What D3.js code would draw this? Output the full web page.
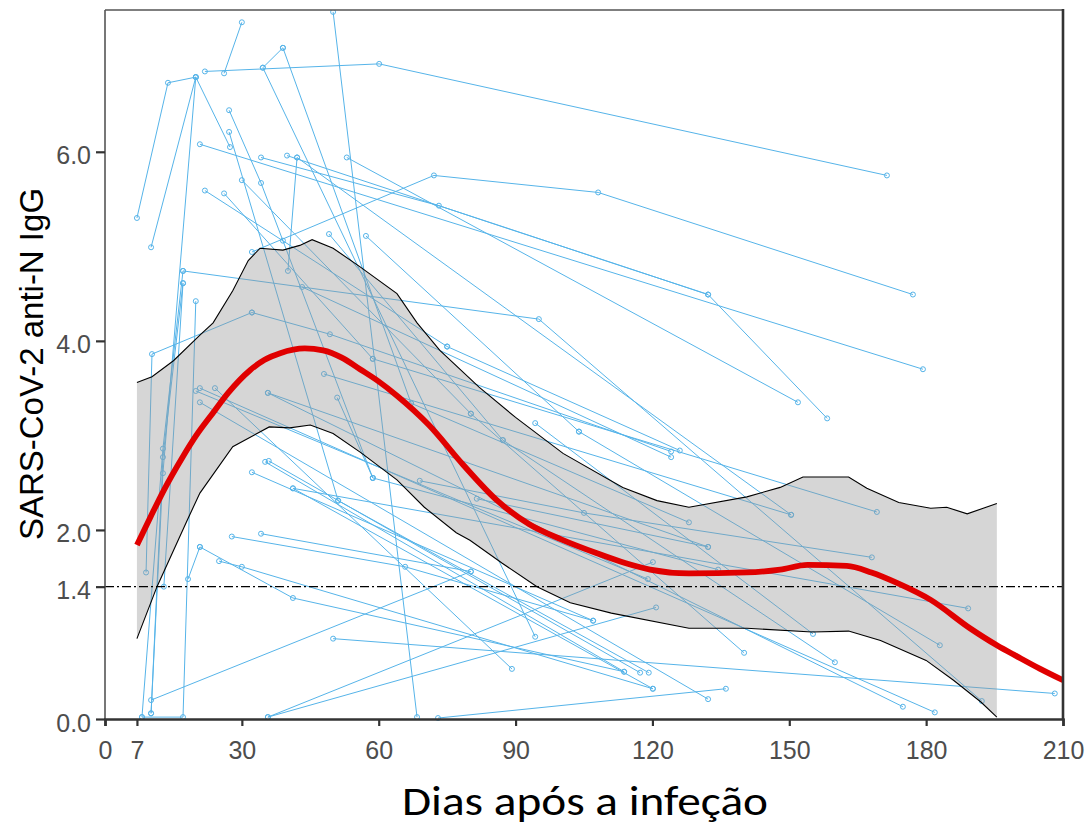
<!DOCTYPE html>
<html><head><meta charset="utf-8">
<script src="https://cdn.jsdelivr.net/npm/d3@7"></script>
<style>body{margin:0;background:#fff}</style>
</head><body>
<svg id="c" width="1087" height="826"></svg>
<script>
const xTickValues = [0, 7, 30, 60, 90, 120, 150, 180, 210];
const yTickValues = [0, 1.4, 2, 4, 6];
const threshold = 1.4;
const xTitle = "Dias após a infeção";
const yTitle = "SARS-CoV-2 anti-N IgG";

// individual trajectories: [day, value]
const subjects = [
  [[32.2,4.94],[72.1,5.75],[108.1,5.57],[177.1,4.49]],
  [[21.9,6.85],[60.1,6.93],[171.4,5.75]],
  [[7.0,5.30],[13.8,6.73],[19.9,6.79]],
  [[10.1,4.99],[19.9,6.79],[27.4,6.05]],
  [[20.8,6.08],[179.3,3.70]],
  [[34.2,5.94],[73.2,5.43],[132.2,4.49],[158.3,3.18]],
  [[53.0,5.94],[151.9,3.35]],
  [[39.9,5.96],[132.2,4.49]],
  [[26.1,6.83],[30.0,7.37]],
  [[39.0,7.10],[67.1,3.34]],
  [[34.6,6.89],[39.0,7.10]],
  [[34.6,6.89],[94.3,0.87]],
  [[27.2,6.44],[34.2,5.67],[39.0,5.06],[58.7,2.55]],
  [[21.9,5.59],[75.0,3.94]],
  [[40.1,4.74],[42.1,5.94]],
  [[30.0,5.70],[80.2,3.23]],
  [[26.1,5.56],[58.7,3.81]],
  [[49.1,5.13],[87.2,2.95]],
  [[57.2,5.11],[103.9,3.04]],
  [[50.0,7.48],[68.4,0.02]],
  [[17.1,4.74],[95.1,4.23],[192.2,0.19]],
  [[75.0,3.94],[126.0,2.84]],
  [[32.2,4.30],[49.3,4.07],[124.1,2.83]],
  [[43.2,4.57],[124.1,2.77]],
  [[48.0,3.65],[150.4,2.16]],
  [[50.9,3.40],[58.7,2.55]],
  [[58.7,3.81],[169.2,2.19]],
  [[67.1,3.34],[128.0,2.08]],
  [[80.2,3.23],[140.1,0.70]],
  [[87.2,2.95],[160.0,0.60]],
  [[94.3,3.13],[155.2,0.90]],
  [[103.9,3.04],[183.0,0.78]],
  [[69.0,2.52],[105.0,2.18],[168.1,1.71]],
  [[81.5,2.33],[132.2,1.82]],
  [[41.2,2.44],[189.2,1.17]],
  [[58.7,2.55],[134.4,1.58]],
  [[51.1,2.31],[119.2,0.49]],
  [[41.2,2.44],[120.1,0.32]],
  [[35.1,2.72],[113.8,0.50]],
  [[35.9,2.73],[117.3,0.49]],
  [[32.2,2.61],[107.0,1.04]],
  [[35.7,3.45],[174.9,0.13]],
  [[19.9,3.47],[119.0,1.48]],
  [[20.8,3.50],[181.9,0.07]],
  [[24.1,3.50],[89.2,0.53]],
  [[20.8,3.35],[132.2,0.21]],
  [[8.1,0.02],[12.7,2.86],[17.1,4.74]],
  [[9.0,1.55],[10.3,3.86],[32.2,4.30]],
  [[12.9,1.40],[17.1,4.61]],
  [[10.1,0.20],[80.2,1.56]],
  [[20.8,1.82],[41.2,1.28],[113.8,0.50]],
  [[27.8,1.93],[65.8,1.61],[107.0,1.04]],
  [[34.2,1.96],[80.2,1.56]],
  [[25.0,1.67],[30.0,1.61],[120.1,0.32]],
  [[8.1,0.02],[17.1,0.02],[19.9,4.42]],
  [[10.1,0.06],[12.7,2.60],[19.9,6.79]],
  [[35.7,0.02],[120.1,1.66]],
  [[35.7,0.02],[120.8,1.18]],
  [[73.0,0.01],[136.1,0.32]],
  [[50.0,0.85],[208.2,0.27]],
  [[18.2,1.48],[20.8,1.82]],
  [[10.1,0.06],[12.7,2.77],[17.1,4.61]],
  [[27.2,6.21],[51.1,2.31]],
  [[42.1,5.94],[150.4,2.16]],
  [[35.7,3.45],[132.2,1.82]]
];

// smoothed mean curve
const loessCurve = [[7,1.84],[10,2.14],[13,2.43],[17,2.77],[20,3.00],[23.7,3.24],[27,3.45],[31.8,3.69],[35,3.80],[38.4,3.87],[43.8,3.92],[47.8,3.90],[52,3.82],[55.9,3.70],[60,3.57],[64,3.42],[71,3.11],[78.5,2.69],[86,2.31],[93,2.06],[100,1.90],[108,1.75],[114,1.65],[119.5,1.58],[128,1.54],[140.7,1.55],[148,1.58],[154,1.63],[162.6,1.62],[168,1.55],[173.6,1.44],[181,1.26],[189.6,0.96],[195.5,0.78],[200,0.66],[205,0.53],[210,0.41]];

// confidence band
const ciUpper = [[7,3.56],[10.3,3.62],[15,3.79],[20.8,4.06],[23.7,4.19],[28,4.53],[31.4,4.85],[34,4.98],[39,4.96],[42.7,5.01],[45.4,5.07],[50,4.98],[56,4.78],[64,4.50],[68.4,4.19],[73.4,3.90],[82,3.51],[90,3.19],[100.4,2.81],[113.5,2.45],[121,2.31],[128,2.24],[140.7,2.35],[148,2.45],[153,2.56],[163,2.56],[167,2.44],[174,2.29],[181,2.23],[184.5,2.24],[189,2.17],[195.5,2.28]];
const ciLower = [[7,0.85],[11.4,1.40],[18,2.10],[20.8,2.39],[28,2.88],[36,3.09],[40.5,3.08],[45,3.11],[50,3.02],[56,2.82],[64,2.53],[70,2.24],[77,1.97],[80,1.89],[87,1.65],[94.7,1.40],[102,1.23],[111,1.12],[128,0.96],[140.7,0.96],[155,0.92],[163,0.93],[170,0.83],[180,0.62],[186,0.41],[192,0.18],[195.5,0.02]];

const svg = d3.select("#c");
const x = d3.scaleLinear().domain([0, 210]).range([105, 1063]);
const y = d3.scaleLinear().domain([0, 7.5]).range([719, 10]);

svg.append("defs").append("clipPath").attr("id", "clip")
  .append("rect").attr("x", 105).attr("y", 10).attr("width", 958).attr("height", 712);
const plot = svg.append("g").attr("clip-path", "url(#clip)");

const line = d3.line().x(d => x(d[0])).y(d => y(d[1]));
const blue = "#56B4E9";

plot.append("g").selectAll("path").data(subjects).join("path")
  .attr("d", line).attr("fill", "none").attr("stroke", blue).attr("stroke-width", 1);
plot.append("g").selectAll("circle").data(subjects.flat()).join("circle")
  .attr("cx", d => x(d[0])).attr("cy", d => y(d[1])).attr("r", 2.5)
  .attr("fill", "none").attr("stroke", blue).attr("stroke-width", 1);

// band
const bandPoly = ciUpper.concat(ciLower.slice().reverse());
plot.append("path").attr("d", line(bandPoly) + "Z")
  .attr("fill", "#999999").attr("fill-opacity", 0.4).attr("stroke", "none");
plot.append("path").attr("d", line(ciUpper)).attr("fill", "none").attr("stroke", "#000").attr("stroke-width", 1.1);
plot.append("path").attr("d", line(ciLower)).attr("fill", "none").attr("stroke", "#000").attr("stroke-width", 1.1);

// threshold
plot.append("line").attr("x1", x(0)).attr("x2", x(210)).attr("y1", y(threshold)).attr("y2", y(threshold))
  .attr("stroke", "#000").attr("stroke-width", 1.2).attr("stroke-dasharray", "9 3 2 3");

// smooth
plot.append("path").attr("d", d3.line().curve(d3.curveMonotoneX).x(d => x(d[0])).y(d => y(d[1]))(loessCurve))
  .attr("fill", "none").attr("stroke", "#e00000").attr("stroke-width", 5.8).attr("stroke-linejoin", "round");

// frame
svg.append("line").attr("x1", 105).attr("x2", 1063).attr("y1", 10).attr("y2", 10).attr("stroke", "#555").attr("stroke-width", 1.5);
svg.append("line").attr("x1", 105).attr("x2", 105).attr("y1", 10).attr("y2", 720).attr("stroke", "#555").attr("stroke-width", 1.6);
svg.append("line").attr("x1", 1063).attr("x2", 1063).attr("y1", 9).attr("y2", 720).attr("stroke", "#333").attr("stroke-width", 2.6);

// axes
const xAxis = d3.axisBottom(x).tickValues(xTickValues).tickFormat(d3.format("d")).tickSize(7).tickPadding(15);
const gx = svg.append("g").attr("transform", "translate(0,719)").call(xAxis);
gx.select(".domain").attr("stroke", "#333").attr("stroke-width", 2.6);
gx.selectAll(".tick line").attr("stroke", "#333").attr("stroke-width", 2.2);
gx.selectAll("text").attr("fill", "#4d4d4d").attr("font-family", "Liberation Sans, Arial, sans-serif").attr("font-size", 25);

const yAxis = d3.axisLeft(y).tickValues(yTickValues).tickFormat(d3.format(".1f")).tickSize(9).tickPadding(5);
const gy = svg.append("g").attr("transform", "translate(105,0)").call(yAxis);
gy.select(".domain").remove();
gy.selectAll(".tick line").attr("stroke", "#333").attr("stroke-width", 2.2);
gy.selectAll("text").attr("fill", "#4d4d4d").attr("font-family", "Liberation Sans, Arial, sans-serif").attr("font-size", 25).attr("dy", "0.48em");

// titles
svg.append("text").attr("transform", "translate(43,364) rotate(-90)").attr("text-anchor", "middle")
  .attr("font-family", "Liberation Sans, Arial, sans-serif").attr("font-size", 33).attr("fill", "#000").text(yTitle);
svg.append("text").attr("x", 585).attr("y", 815).attr("text-anchor", "middle")
  .attr("font-family", "Carlito, Calibri, Lato, sans-serif").attr("font-size", 40).attr("fill", "#000")
  .attr("textLength", 366).attr("lengthAdjust", "spacingAndGlyphs").text(xTitle);
</script>
</body></html>
